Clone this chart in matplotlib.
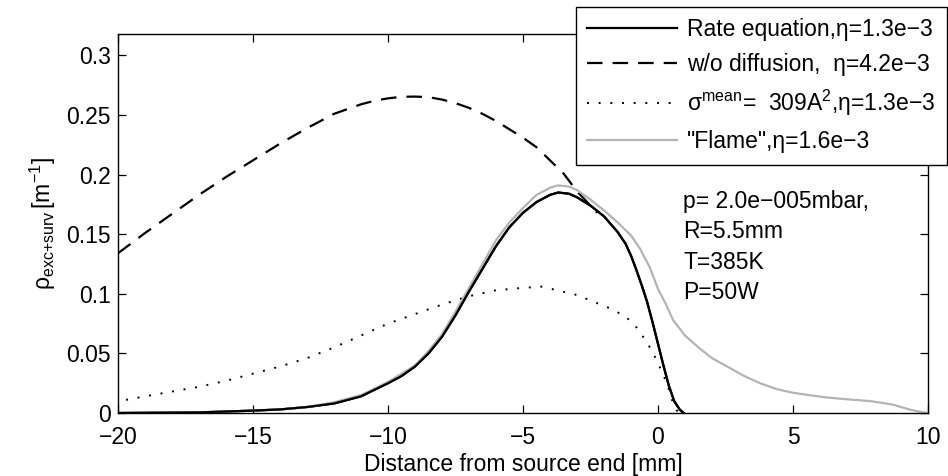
import matplotlib

matplotlib.use("Agg")
import matplotlib.pyplot as plt  # noqa: E402

plt.rcParams["font.family"] = ["Liberation Sans", "DejaVu Sans"]
plt.rcParams["mathtext.fontset"] = "custom"
plt.rcParams["mathtext.rm"] = "Liberation Sans"
plt.rcParams["mathtext.it"] = "Liberation Sans:italic"

# rate equation (solid black)
rate_x = [-20, -17, -15, -14, -13, -12, -11, -10, -9.5, -9, -8.5, -8, -7.5, -7, -6.5, -6, -5.5, -5,
          -4.5, -4, -3.7, -3.3, -3, -2.5, -2, -1.5, -1.2, -1, -0.8, -0.6, -0.4, -0.2, 0.0, 0.2, 0.4,
          0.6, 0.8, 0.95]
rate_y = [0.0, 0.0005, 0.002, 0.003, 0.005, 0.008, 0.014, 0.025, 0.031, 0.039, 0.050, 0.064, 0.082,
          0.102, 0.121, 0.140, 0.156, 0.168, 0.177, 0.183, 0.185, 0.184, 0.181, 0.174, 0.165, 0.152,
          0.142, 0.132, 0.120, 0.107, 0.093, 0.076, 0.058, 0.040, 0.023, 0.010, 0.003, 0.0]

# w/o diffusion (dashed)
nodiff_x = [-20, -19, -18, -17, -16, -15, -14, -13, -12, -11, -10.5, -10, -9.5, -9, -8.5, -8, -7.5,
            -7, -6.5, -6, -5.5, -5, -4.5, -4, -3.5, -3, -2.5, -2.25]
nodiff_y = [0.134, 0.151, 0.167, 0.183, 0.198, 0.212, 0.226, 0.239, 0.251, 0.259, 0.262, 0.264,
            0.2653, 0.2655, 0.265, 0.263, 0.260, 0.256, 0.251, 0.245, 0.238, 0.231, 0.223, 0.212,
            0.201, 0.186, 0.174, 0.168]

# sigma mean (dotted)
sigma_x = [-19.7, -19, -18, -17, -16, -15, -14, -13, -12, -11, -10, -9, -8, -7, -6, -5, -4.3, -3,
           -1.8, -1.2, -0.8, -0.4, -0.2, 0.0, 0.15, 0.33, 0.45, 0.56, 0.65, 0.75]
sigma_y = [0.011, 0.014, 0.018, 0.022, 0.027, 0.033, 0.039, 0.046, 0.055, 0.065, 0.075, 0.083,
           0.091, 0.098, 0.103, 0.105, 0.106, 0.099, 0.088, 0.081, 0.072, 0.059, 0.051, 0.042,
           0.034, 0.025, 0.016, 0.008, 0.004, 0.0]

# "Flame" (gray)
flame_x = [-20, -17, -15, -14, -13, -12, -11, -10, -9, -8.5, -8, -7.5, -7, -6.5, -6, -5.5, -5, -4.5,
           -4, -3.7, -3.3, -3, -2.5, -2, -1.5, -1, -0.67, -0.3, 0.0, 0.3, 0.56, 1.0, 1.5, 2.0, 2.56,
           3.2, 3.78, 4.4, 5.0, 5.6, 6.26, 7.0, 7.85, 8.3, 8.7, 9.0, 9.3, 9.6, 10]
flame_y = [0.0, 0.0005, 0.002, 0.003, 0.005, 0.009, 0.015, 0.026, 0.040, 0.052, 0.066, 0.085, 0.105,
           0.125, 0.145, 0.160, 0.172, 0.183, 0.189, 0.191, 0.190, 0.187, 0.179, 0.170, 0.160,
           0.149, 0.138, 0.122, 0.104, 0.091, 0.078, 0.065, 0.055, 0.046, 0.039, 0.031, 0.025,
           0.020, 0.017, 0.015, 0.013, 0.0115, 0.010, 0.0085, 0.007, 0.005, 0.003, 0.0015, 0.0]

labels = ["Rate equation,η=1.3e−3", "w/o diffusion,  η=4.2e−3",
          r"$\mathrm{σ}^{\mathrm{mean}}$=  309A$^2$,η=1.3e−3", "\"Flame\",η=1.6e−3"]
info = ["p= 2.0e−005mbar,", "R=5.5mm", "T=385K", "P=50W"]
info_y = [0.172, 0.1465, 0.121, 0.0955]

fig = plt.figure(figsize=(9.48, 4.76), dpi=100)
ax = fig.add_axes([118 / 948, 63 / 476, 810 / 948, 379 / 476])

ax.plot(rate_x, rate_y, "-", color="black", lw=1.6, label=labels[0])
ax.plot(nodiff_x, nodiff_y, "--", color="black", lw=1.6, dashes=(7, 4.5), label=labels[1])
ax.plot(sigma_x, sigma_y, ":", color="black", lw=1.4, dashes=(1, 5), label=labels[2])
ax.plot(flame_x, flame_y, "-", color="#b3b3b3", lw=1.6, label=labels[3])
# solid on top of the gray like the original draw order
ax.plot(rate_x, rate_y, "-", color="black", lw=1.6, zorder=3)

for s, yy in zip(info, info_y):
    ax.text(0.93, yy, s, fontsize=16.5, va="baseline", ha="left")

ax.set_xlim(-20, 10)
ax.set_ylim(0, 0.318)
ax.set_xticks([-20, -15, -10, -5, 0, 5, 10])
ax.set_xticklabels(["−20", "−15", "−10", "−5", "0", "5", "10"])
ax.set_yticks([0, 0.05, 0.1, 0.15, 0.2, 0.25, 0.3])
ax.set_yticklabels(["0", "0.05", "0.1", "0.15", "0.2", "0.25", "0.3"])
ax.tick_params(direction="in", top=True, right=True, length=6, width=0.9, labelsize=16.5, pad=5)
ax.tick_params(axis="x", pad=9)
for sp in ax.spines.values():
    sp.set_linewidth(1.0)
ax.set_xlabel("Distance from source end [mm]", fontsize=16.5, labelpad=3)
ax.set_ylabel(r"$\mathrm{ρ}_{\mathrm{exc{+}surv}}\,[\mathrm{m}^{-1}]$", fontsize=16.5, labelpad=6)

leg = ax.legend(loc="upper right", bbox_to_anchor=(947 / 948, 469 / 476), bbox_transform=fig.transFigure,
                fontsize=16.5, frameon=True, fancybox=False, handlelength=3.9, handletextpad=0.45,
                labelspacing=0.52, borderpad=0.5, borderaxespad=0)
leg.get_frame().set_edgecolor("black")
leg.get_frame().set_linewidth(1.0)
leg.get_frame().set_alpha(1)

fig.savefig("out.png", dpi=100)
